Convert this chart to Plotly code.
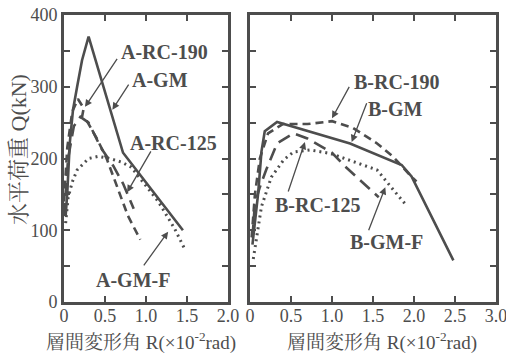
import plotly.graph_objects as go

# ---------------- data ----------------
# Left panel (A series): drift R (x10^-2 rad) vs shear Q (kN)
A_GM_R = [0.02, 0.04, 0.07, 0.11, 0.16, 0.22, 0.30, 0.72, 1.45]
A_GM_Q = [120, 152, 221, 268, 300, 337, 370, 208, 100]

A_RC190_R = [0.00, 0.04, 0.10, 0.17, 0.24, 0.22, 0.28, 0.40, 0.52, 0.65, 0.78, 0.93]
A_RC190_Q = [140, 215, 265, 283, 270, 258, 252, 228, 200, 160, 120, 87]

A_RC125_R = [0.00, 0.05, 0.12, 0.20, 0.30, 0.45, 0.60, 0.72, 0.85]
A_RC125_Q = [120, 200, 245, 258, 250, 215, 190, 165, 130]

A_GMF_R = [0.02, 0.05, 0.10, 0.16, 0.30, 0.42, 0.56, 0.70, 0.82, 0.96, 1.15, 1.35, 1.48]
A_GMF_Q = [110, 145, 167, 184, 200, 203, 200, 195, 188, 168, 140, 102, 72]

# Right panel (B series)
B_GM_R = [0.03, 0.07, 0.10, 0.14, 0.18, 0.33, 1.22, 1.85, 1.97, 2.48]
B_GM_Q = [80, 120, 152, 210, 238, 251, 221, 191, 175, 58]

B_RC190_R = [0.02, 0.06, 0.12, 0.22, 0.40, 0.70, 1.00, 1.25, 1.55, 1.75, 1.95, 2.03]
B_RC190_Q = [90, 150, 200, 235, 248, 248, 252, 243, 221, 202, 177, 168]

B_RC125_R = [0.03, 0.06, 0.12, 0.16, 0.20, 0.33, 0.53, 0.70, 1.00, 1.15, 1.32, 1.50, 1.57]
B_RC125_Q = [90, 138, 160, 174, 185, 221, 235, 228, 208, 190, 172, 153, 146]

B_GMF_R = [0.04, 0.08, 0.14, 0.26, 0.41, 0.53, 0.73, 0.98, 1.34, 1.55, 1.75, 1.89]
B_GMF_Q = [60, 91, 133, 174, 198, 209, 212, 207, 193, 184, 156, 137]

X1_TICKS = [0, 0.5, 1.0, 1.5, 2.0]
X1_TEXT = ["0", "0.5", "1.0", "1.5", "2.0"]
X2_TICKS = [0, 0.5, 1.0, 1.5, 2.0, 2.5, 3.0]
X2_TEXT = ["0", "0.5", "1.0", "1.5", "2.0", "2.5", "3.0"]
Y_TICKS = [0, 50, 100, 150, 200, 250, 300, 350, 400]
Y_TEXT = ["0", "", "100", "", "200", "", "300", "", "400"]

# ---------------- styling ----------------
INK = "#4d4d4d"
SERIF = "Liberation Serif, Times New Roman, serif"
MIXED = "Liberation Serif, Noto Serif CJK JP, Noto Sans CJK JP, serif"
DASH = "8px,5px"
LONGDASH = "13px,7px"
DOT = "2px,4px"

fig = go.Figure()

def add(x, y, dash, xa, ya, width=2.6):
    fig.add_trace(go.Scatter(x=x, y=y, mode="lines", xaxis=xa, yaxis=ya,
                             line=dict(color=INK, width=width, dash=dash),
                             showlegend=False, hoverinfo="skip"))

add(A_GM_R, A_GM_Q, "solid", "x", "y")
add(A_RC190_R, A_RC190_Q, DASH, "x", "y")
add(A_RC125_R, A_RC125_Q, LONGDASH, "x", "y")
add(A_GMF_R, A_GMF_Q, DOT, "x", "y", 3)

add(B_GM_R, B_GM_Q, "solid", "x2", "y2")
add(B_RC190_R, B_RC190_Q, DASH, "x2", "y2")
add(B_RC125_R, B_RC125_Q, LONGDASH, "x2", "y2")
add(B_GMF_R, B_GMF_Q, DOT, "x2", "y2", 3)

W, H = 506, 355
axis_common = dict(showline=True, linewidth=3, linecolor=INK, mirror="ticks",
                   ticks="inside", ticklen=6, tickwidth=1.5, tickcolor=INK,
                   showgrid=False, zeroline=False, automargin=False,
                   ticklabeloverflow="allow",
                   tickfont=dict(family=SERIF, size=18, color=INK))

fig.update_layout(
    width=W, height=H,
    margin=dict(l=0, r=0, t=0, b=0, pad=0, autoexpand=False),
    paper_bgcolor="white", plot_bgcolor="white",
    xaxis=dict(domain=[64 / W, 228 / W], range=[0, 2.0], anchor="y",
               tickvals=X1_TICKS, ticktext=X1_TEXT, ticklabelstandoff=-5,
               **axis_common),
    yaxis=dict(domain=[53 / H, 340 / H], range=[0, 400], anchor="x",
               tickvals=Y_TICKS, ticktext=Y_TEXT, **axis_common),
    xaxis2=dict(domain=[250 / W, 496 / W], range=[0, 3.0], anchor="y2",
                tickvals=X2_TICKS, ticktext=X2_TEXT, ticklabelstandoff=-5,
                **axis_common),
    yaxis2=dict(domain=[53 / H, 340 / H], range=[0, 400], anchor="x2",
                tickvals=Y_TICKS, showticklabels=False, **axis_common),
)

lab_font = dict(family=SERIF, size=20, color=INK)

def label(text, x, y, xr, yr):
    fig.add_annotation(text="<b>%s</b>" % text, x=x, y=y, xref=xr, yref=yr,
                       xanchor="center", yanchor="middle",
                       showarrow=False, font=lab_font)

def arrow(x0, y0, x1, y1, xr, yr):
    fig.add_annotation(text="", x=x1, y=y1, ax=x0, ay=y0, xref=xr, yref=yr,
                       axref=xr, ayref=yr, showarrow=True, arrowhead=2,
                       arrowsize=1.1, arrowwidth=1.3, arrowcolor=INK)

# left panel labels
label("A-RC-190", 1.23, 348, "x", "y")
arrow(0.66, 341, 0.256, 272, "x", "y")
label("A-GM", 1.17, 309, "x", "y")
arrow(0.80, 305, 0.59, 268, "x", "y")
label("A-RC-125", 1.33, 222, "x", "y")
arrow(1.07, 212, 0.77, 153, "x", "y")
label("A-GM-F", 0.84, 31, "x", "y")
arrow(0.96, 49, 1.27, 98, "x", "y")

# right panel labels
label("B-RC-190", 1.79, 307, "x2", "y2")
arrow(1.22, 302, 1.00, 256, "x2", "y2")
label("B-GM", 1.78, 269, "x2", "y2")
arrow(1.43, 279, 1.24, 223, "x2", "y2")
label("B-RC-125", 0.83, 135, "x2", "y2")
arrow(0.46, 152, 0.67, 223, "x2", "y2")
label("B-GM-F", 1.67, 84, "x2", "y2")
arrow(1.44, 98, 1.65, 160, "x2", "y2")

# axis titles
xt = "層間変形角 R(×10<sup>-2</sup>rad)"
title_kw = dict(xref="paper", yref="paper", showarrow=False,
                xanchor="center", yanchor="middle")
fig.add_annotation(text=xt, x=141 / W, y=1 - 341 / H,
                   font=dict(family=MIXED, size=19, color=INK), **title_kw)
fig.add_annotation(text=xt, x=382 / W, y=1 - 341 / H,
                   font=dict(family=MIXED, size=19, color=INK), **title_kw)
fig.add_annotation(text="水平荷重 Q(kN)", x=18 / W, y=1 - 150 / H, textangle=-90,
                   font=dict(family=MIXED, size=22, color=INK), **title_kw)

fig.write_html("out.html",
               config={"displayModeBar": False},
               post_script="document.body.style.margin='0';"
                           "document.body.style.overflow='hidden';")
